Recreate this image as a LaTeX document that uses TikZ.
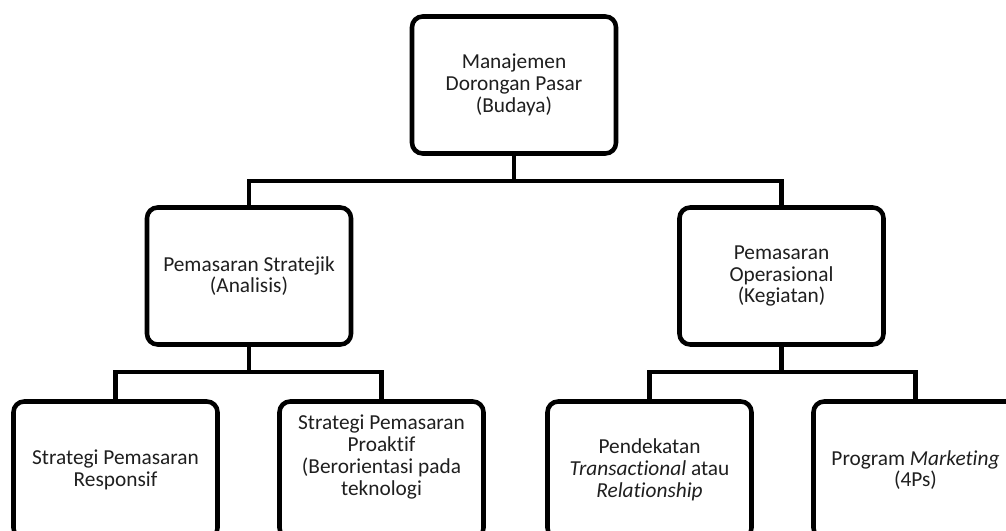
\documentclass[tikz,border=0pt]{standalone}
\usepackage{fontspec}
\setmainfont{Carlito}[Ligatures=NoCommon]
\begin{document}
\begin{tikzpicture}[x=0.75pt,y=-0.75pt,
  box/.style={draw=black, line width=3.4pt, rounded corners=8pt,
    minimum width=204*0.75pt, minimum height=137*0.75pt,
    inner sep=0pt, outer sep=0pt, align=center, fill=white,
    text=black!88, font=\fontsize{16pt}{16.3pt}\selectfont},
  lbl/.style={align=center, inner sep=0pt, text=black!88,
    font=\fontsize{16pt}{16.3pt}\selectfont},
  link/.style={draw=black, line width=3.2pt}]
\clip (0,0) rectangle (1006,531);
\fill[white] (0,0) rectangle (1006,531);

% top level
\node[box] (top) at (514,85) {Manajemen\\Dorongan Pasar\\(Budaya)};

% second level
\node[box] (ml) at (249,276) {Pemasaran Stratejik\\(Analisis)};
\node[box] (mr) at (781.5,276) {Pemasaran\\Operasional\\(Kegiatan)};

% third level (runs past the lower edge)
\node[box] (b1) at (115.5,470) {Strategi Pemasaran\\Responsif};
\node[box, label={[lbl, yshift=9.75pt]center:{Strategi Pemasaran\\Proaktif\\(Berorientasi pada\\teknologi}}] (b2) at (381.5,470) {};
\node[box] (b3) at (649.5,470) {Pendekatan\\\textit{Transactional} atau\\\textit{Relationship}};
\node[box] (b4) at (915.5,470) {Program \textit{Marketing}\\(4Ps)};

% connectors
\coordinate (j0) at (514,181);
\draw[link] (top.south) -- (j0);
\draw[link] (ml.north) |- (j0) -| (mr.north);

\coordinate (j1) at (249,372);
\draw[link] (ml.south) -- (j1);
\draw[link] (b1.north) |- (j1) -| (b2.north);

\coordinate (j2) at (781.5,372);
\draw[link] (mr.south) -- (j2);
\draw[link] (b3.north) |- (j2) -| (b4.north);
\end{tikzpicture}
\end{document}
